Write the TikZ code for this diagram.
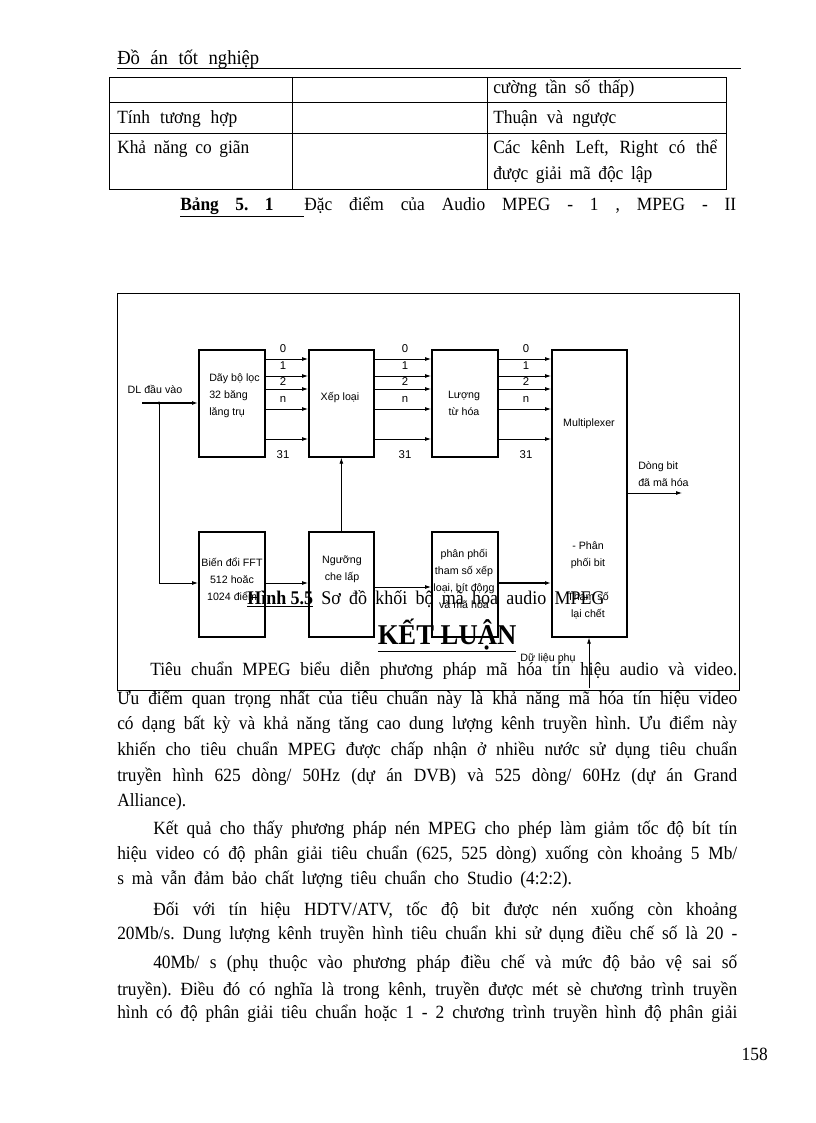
\documentclass[tikz,border=0pt]{standalone}
\usepackage{fontspec}
\setmainfont[FakeStretch=0.93]{Liberation Serif}
\newfontfamily\arial{Liberation Sans}
\usetikzlibrary{arrows.meta}
\frenchspacing
\begin{document}
\begin{tikzpicture}[x=0.75pt,y=-0.75pt,
  blk/.style={draw,line width=1.3pt,inner sep=0pt,anchor=north west},
  lab/.style={font=\arial\fontsize{8}{12.75}\selectfont,inner sep=0pt,align=center},
  num/.style={font=\arial\fontsize{8.5}{10}\selectfont,inner sep=0pt},
  conn/.style={line width=0.6pt,-{Latex[length=4.5pt,width=3pt]}},
  thick conn/.style={line width=1.3pt,-{Latex[length=4.5pt,width=3pt]}},
  body/.style={font=\fontsize{14}{16}\selectfont\frenchspacing,inner sep=0pt,anchor=base west},
  tbl/.style={line width=0.6pt}
]
\fill[white] (0,0) rectangle (816,1123);
\useasboundingbox (0,0) rectangle (816,1123);

% header
\node[body,font=\fontsize{15}{17}\selectfont] (hdr) at (117,65) {\makebox[106.5pt][s]{Đồ án tốt nghiệp}};
\draw[line width=0.6pt] (117,68) -- (741,68);

% table
\draw[tbl] (109,77) rectangle (726,189);
\draw[tbl] (109,102) -- (726,102);
\draw[tbl] (109,133) -- (726,133);
\draw[tbl] (292,77) -- (292,189);
\draw[tbl] (487,77) -- (487,189);
\node[body] (c13) at (493,94) {\makebox[105.75pt][s]{cường tần số thấp)}};
\node[body] (c21) at (117,124) {\makebox[90pt][s]{Tính tương hợp}};
\node[body] (c23) at (493,124) {\makebox[92.25pt][s]{Thuận và ngược}};
\node[body] (c31) at (117,154) {\makebox[99pt][s]{Khả năng co giãn}};
\node[body] (c33a) at (493,154) {\makebox[168pt][s]{Các kênh Left, Right có thể}};
\node[body] (c33b) at (493,180) {\makebox[119.25pt][s]{được giải mã độc lập}};
\node[body] (cap1) at (180,210) {\underline{\makebox[93pt][l]{\makebox[70pt][s]{\textbf{Bảng 5. 1}}}}\makebox[324pt][s]{Đặc điểm của Audio MPEG - 1 , MPEG - II}};

% diagram frame
\draw[line width=0.6pt] (117,293) rectangle (739,690);

% blocks
\node[blk,minimum width=66*0.75pt,minimum height=107*0.75pt] (filt) at (198,349) {};
\node[blk,minimum width=65*0.75pt,minimum height=107*0.75pt] (xep) at (308,349) {};
\node[blk,minimum width=66*0.75pt,minimum height=107*0.75pt] (luong) at (431,349) {};
\node[blk,minimum width=75*0.75pt,minimum height=287*0.75pt] (mux) at (551,349) {};
\node[blk,minimum width=66*0.75pt,minimum height=105*0.75pt] (fft) at (198,531) {};
\node[blk,minimum width=65*0.75pt,minimum height=105*0.75pt] (ngu) at (308,531) {};
\node[blk,minimum width=66*0.75pt,minimum height=105*0.75pt] (pp) at (431,531) {};

% block texts
\node[lab,align=left,anchor=west] (tfilt) at (209,396) {Dãy bộ lọc\\32 băng\\lăng trụ};
\node[lab] (txep) at (340,398) {Xếp loại};
\node[lab] (tluong) at (464,403) {Lượng\\từ hóa};
\node[lab] (tmux) at (589,424) {Multiplexer};
\node[lab] (tfft) at (232,579) {Biến đổi FFT\\512 hoăc\\1024 điểm};
\node[lab] (tngu) at (342,569) {Ngưỡng\\che lấp};
\node[lab] (tpp) at (464,579) {phân phối\\tham số xếp\\loại, bít động\\và mã hóa};
\node[lab] (tmux2) at (588,580) {- Phân\\phối bit\\[12.75pt]Tham số\\lại chết};

% channel arrows
\foreach \yy in {359,376,389,409,439} {
  \draw[conn] (filt.east |- 0,\yy) -- (xep.west |- 0,\yy);
  \draw[conn] (xep.east |- 0,\yy) -- (luong.west |- 0,\yy);
  \draw[conn] (luong.east |- 0,\yy) -- (mux.west |- 0,\yy);
}
\foreach \xx/\g in {283/a,405/b,526/c} {
  \node[num] (n0\g) at (\xx,349) {0};
  \node[num] (n1\g) at (\xx,366) {1};
  \node[num] (n2\g) at (\xx,382) {2};
  \node[num] (nn\g) at (\xx,399) {n};
  \node[num] (n31\g) at (\xx,455) {31};
}

% input
\node[lab] (din) at (155,389) {DL đầu vào};
\coordinate (inS) at (142,403);
\coordinate (br) at (159,403);
\coordinate (brd) at (159,583);
\draw[thick conn] (inS) -- (filt.west |- inS);
\fill (br) circle (1.6);
\draw[conn] (br) -- (brd) -- (fft.west |- brd);

% lower arrows
\draw[conn] (ngu.north) -- (xep.south);
\draw[conn] (fft.east |- 0,583) -- (ngu.west |- 0,583);
\draw[conn] (ngu.east |- 0,587) -- (pp.west |- 0,587);
\draw[thick conn] (pp.east |- 0,583) -- (mux.west |- 0,583);

% output
\coordinate (outE) at (682,493);
\draw[conn] (mux.east |- outE) -- (outE);
\node[lab,align=left,anchor=west] (tout) at (638,474) {Dòng bit\\đã mã hóa};

% auxiliary data
\coordinate (aux) at (589,688);
\draw[conn] (aux) -- (aux |- mux.south);
\node[lab] (taux) at (548,659) {Dữ liệu phụ};

% figure caption and heading
\node[body,font=\fontsize{14.5}{16}\selectfont] (cap2) at (247,604) {\makebox[268pt][s]{\underline{\textbf{Hình 5.5}} Sơ đồ khối bộ mã hóa audio MPEG}};
\node[font=\fontsize{21.5}{24}\selectfont\bfseries,inner sep=0pt,anchor=base] (head) at (447,644) {\underline{KẾT LUẬN}};

% body text
\node[body] (l1) at (150,675) {\makebox[440.25pt][s]{Tiêu chuẩn MPEG biểu diễn phương pháp mã hóa tín hiệu audio và video.}};
\node[body] (l2) at (117,704) {\makebox[465pt][s]{Ưu điểm quan trọng nhất của tiêu chuẩn này là khả năng mã hóa tín hiệu video}};
\node[body] (l3) at (117,729) {\makebox[465pt][s]{có dạng bất kỳ và khả năng tăng cao dung lượng kênh truyền hình. Ưu điểm này}};
\node[body] (l4) at (117,755) {\makebox[465pt][s]{khiến cho tiêu chuẩn MPEG được chấp nhận ở nhiều nước sử dụng tiêu chuẩn}};
\node[body] (l5) at (117,781) {\makebox[465pt][s]{truyền hình 625 dòng/ 50Hz (dự án DVB) và 525 dòng/ 60Hz (dự án Grand}};
\node[body] (l6) at (117,806) {Alliance).};
\node[body] (l7) at (153,834) {\makebox[438pt][s]{Kết quả cho thấy phương pháp nén MPEG cho phép làm giảm tốc độ bít tín}};
\node[body] (l8) at (117,859) {\makebox[465pt][s]{hiệu video có độ phân giải tiêu chuẩn (625, 525 dòng) xuống còn khoảng 5 Mb/}};
\node[body] (l9) at (117,884) {\makebox[341pt][s]{s mà vẫn đảm bảo chất lượng tiêu chuẩn cho Studio (4:2:2).}};
\node[body] (l10) at (153,915) {\makebox[438pt][s]{Đối với tín hiệu HDTV/ATV, tốc độ bit được nén xuống còn khoảng}};
\node[body] (l11) at (117,939) {\makebox[465pt][s]{20Mb/s. Dung lượng kênh truyền hình tiêu chuẩn khi sử dụng điều chế số là 20 -}};
\node[body] (l12) at (153,968) {\makebox[438pt][s]{40Mb/ s (phụ thuộc vào phương pháp điều chế và mức độ bảo vệ sai số}};
\node[body] (l13) at (117,995) {\makebox[465pt][s]{truyền). Điều đó có nghĩa là trong kênh, truyền được mét sè chương trình truyền}};
\node[body] (l14) at (117,1018) {\makebox[465pt][s]{hình có độ phân giải tiêu chuẩn hoặc 1 - 2 chương trình truyền hình độ phân giải}};
\node[body,anchor=base east] (pg) at (768,1060) {158};
\end{tikzpicture}
\end{document}
